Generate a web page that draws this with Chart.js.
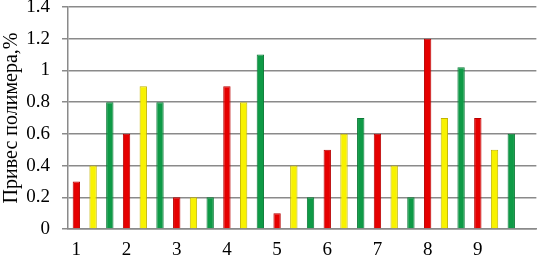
<!DOCTYPE html>
<html>
<head>
<meta charset="utf-8">
<script src="https://cdn.jsdelivr.net/npm/chart.js@4/dist/chart.umd.min.js"></script>
<style>
    html, body { margin: 0; padding: 0; background: #fff; }
    canvas { display: block; }
</style>
</head>
<body>
<canvas id="chart" width="538" height="262"></canvas>
<script>
// номера вариантов по оси X
const groups = ['1', '2', '3', '4', '5', '6', '7', '8', '9'];
// привес полимера, % — три серии в каждой группе
const redVals = [0.3, 0.6, 0.2, 0.9, 0.1, 0.5, 0.6, 1.2, 0.7];
const yellowVals = [0.4, 0.9, 0.2, 0.8, 0.4, 0.6, 0.4, 0.7, 0.5];
const greenVals = [0.8, 0.8, 0.2, 1.1, 0.2, 0.7, 0.2, 1.02, 0.6];
const yTicks = [0, 0.2, 0.4, 0.6, 0.8, 1, 1.2, 1.4];

// каждая полоса в своей ячейке, подпись под красной, одна пустая ячейка в конце
const labels = [];
groups.forEach((g) => labels.push(g, '', ''));
labels.push('');

function place(vals, shift) {
    const out = new Array(labels.length).fill(null);
    vals.forEach((v, i) => { out[i * 3 + shift] = v; });
    return out;
}

const barBase = {
    grouped: false,
    barPercentage: 0.44,
    categoryPercentage: 1,
    borderWidth: 1,
    borderSkipped: 'bottom',
};

const serif = '"Liberation Serif", "Times New Roman", serif';
const gridGray = '#8a8a8a';

new Chart(document.getElementById('chart'), {
    type: 'bar',
    data: {
        labels,
        datasets: [
            { ...barBase, label: 'red', data: place(redVals, 0), backgroundColor: '#e50000', borderColor: '#b80000' },
            { ...barBase, label: 'yellow', data: place(yellowVals, 1), backgroundColor: '#f8f200', borderColor: '#c2b400' },
            { ...barBase, label: 'green', data: place(greenVals, 2), backgroundColor: '#0e9a46', borderColor: '#0a7a36' },
        ],
    },
    options: {
        responsive: false,
        animation: false,
        layout: { padding: { top: 0, right: 0, bottom: 2, left: 0 } },
        plugins: { legend: { display: false }, tooltip: { enabled: false } },
        scales: {
            x: {
                grid: { display: false, drawTicks: false },
                border: { color: gridGray, width: 1.5 },
                afterFit: (axis) => { axis.height = 31; },
                ticks: {
                    autoSkip: false,
                    maxRotation: 0,
                    padding: 10,
                    color: '#000',
                    font: { family: serif, size: 19 },
                },
            },
            y: {
                min: 0,
                max: 1.4,
                afterBuildTicks: (axis) => { axis.ticks = yTicks.map((v) => ({ value: v })); },
                afterFit: (axis) => { axis.paddingTop = 7; axis.width = 68; },
                grid: { color: gridGray, lineWidth: 1.5, tickLength: 6 },
                border: { display: true, color: gridGray, width: 1.5 },
                ticks: {
                    padding: 12,
                    color: '#000',
                    font: { family: serif, size: 19 },
                    callback: (v) => String(v),
                },
                title: {
                    display: true,
                    text: 'Привес полимера,%',
                    color: '#000',
                    padding: { top: 0, bottom: 1 },
                    font: { family: serif, size: 20 },
                },
            },
        },
    },
});
</script>
</body>
</html>
